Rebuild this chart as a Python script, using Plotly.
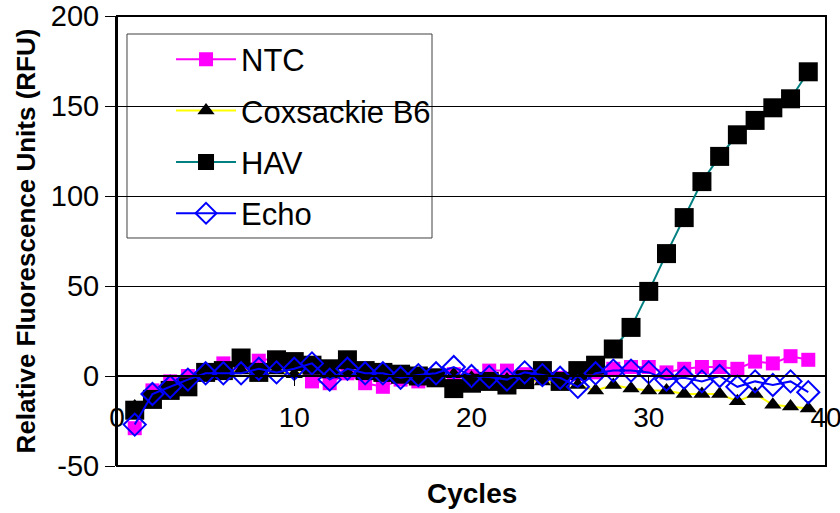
import plotly.graph_objects as go

cycles = list(range(1, 40))

ntc = [-29, -8, -3, 0, 2, 7, 5, 8.5, 10, 7, -3, -4, 1.5, -4, -6,
       -2, -3, -1, 1, 0, 3, 3, 1, 0, -1, 1, 2, 4, 5,
       5, 2, 4, 5, 5, 4, 8, 7, 11, 9]
coxsackie = [-17, -12, -8, -5, 0, 2, 3, 3, 3, 1, 3, 2, 2, 1, 0,
             0, 0, -1, 1, -1, -2, -2, -2, -3, -4, -5, -8, -5, -7,
             -8, -8, -10, -10, -10, -14, -10, -16, -17, -18]
hav = [-19, -13, -8, -6, 2, 3, 10, 2, 9, 8, 6, 4, 9, 3, 2,
       1, 0, -1, -7, -4, -3, -5, -2, 3, -3, 3, 6, 15, 27,
       47, 68, 88, 108, 122, 134, 142, 149, 154, 169]
echo = [-27, -10, -6, -2, 1.5, 1.5, 1.5, 4, 2, 4, 7, -2, 4, 1.5, 1.5,
        -1, 0.5, 1.5, 5, 0, -0.5, -2, 2, 0.5, -1, -6, 1.5, 3, 3,
        2, -2, -1, -3, 0, -6, -3, -5, -3, -9]

x_ticks = [0, 10, 20, 30, 40]
y_ticks = [-50, 0, 50, 100, 150, 200]
y_tick_labels = ["-50", "0", "50", "100", "150", "200"]

FONT = "Arial, Liberation Sans, sans-serif"

fig = go.Figure()
fig.add_trace(go.Scatter(x=cycles, y=ntc, name="NTC", mode="lines+markers",
                         line=dict(color="#FF00FF", width=2),
                         marker=dict(symbol="square", size=14, color="#FF00FF"),
                         legendgroup="a"))
fig.add_trace(go.Scatter(x=cycles, y=coxsackie, name="Coxsackie B6", mode="lines+markers",
                         line=dict(color="#FFFF00", width=2),
                         marker=dict(symbol="triangle-up", size=15, color="#000000"),
                         legendgroup="b"))
fig.add_trace(go.Scatter(x=cycles, y=hav, name="HAV", mode="lines+markers",
                         line=dict(color="#008080", width=2),
                         marker=dict(symbol="square", size=19, color="#000000"),
                         legendgroup="c"))
fig.add_trace(go.Scatter(x=cycles, y=echo, name="Echo", mode="lines+markers",
                         line=dict(color="#0000FF", width=2),
                         marker=dict(symbol="diamond-open", size=17, color="#0000FF",
                                     line=dict(width=2, color="#0000FF")),
                         legendgroup="d"))

fig.update_layout(
    width=840, height=513,
    margin=dict(l=117, r=14, t=16, b=47),
    paper_bgcolor="white", plot_bgcolor="white",
    font=dict(family=FONT, color="black", size=28),
    showlegend=True,
    legend=dict(x=0.0762, y=0.963, xanchor="left", yanchor="top",
                bgcolor="rgba(0,0,0,0)", borderwidth=0,
                font=dict(size=31), tracegroupgap=8, itemwidth=60),
    xaxis=dict(range=[0, 40], tickvals=x_ticks,
               showgrid=False, zeroline=False,
               showline=True, linecolor="black", linewidth=2,
               ticks="outside", ticklen=9, tickwidth=1, tickcolor="black",
               tickfont=dict(size=28), ticklabelstandoff=7,
               ticklabeloverflow="allow",
               anchor="free", position=0.2, automargin=False),
    yaxis=dict(range=[-50, 200], tickvals=y_ticks, ticktext=y_tick_labels,
               showgrid=True, gridcolor="#000000", gridwidth=1,
               zeroline=False,
               showline=True, linecolor="black", linewidth=2,
               ticks="outside", ticklen=10, tickwidth=1, tickcolor="black",
               tickfont=dict(size=29), automargin=False,
               title=dict(text="<b>Relative Fluorescence Units (RFU)</b>", font=dict(size=26), standoff=8)),
    shapes=[
        dict(type="rect", xref="paper", yref="paper", x0=0.0141, x1=0.4443, y0=0.5067, y1=0.96,
             line=dict(color="#404040", width=1), fillcolor="white", layer="below"),
        dict(type="rect", xref="paper", yref="paper", x0=0, x1=1, y0=0, y1=1,
             line=dict(color="black", width=2), layer="above"),
    ],
    annotations=[dict(text="<b>Cycles</b>", xref="paper", yref="paper", x=0.5, y=-0.06,
                      xanchor="center", yanchor="middle", showarrow=False,
                      font=dict(size=28))],
)

fig.write_html("out.html")
